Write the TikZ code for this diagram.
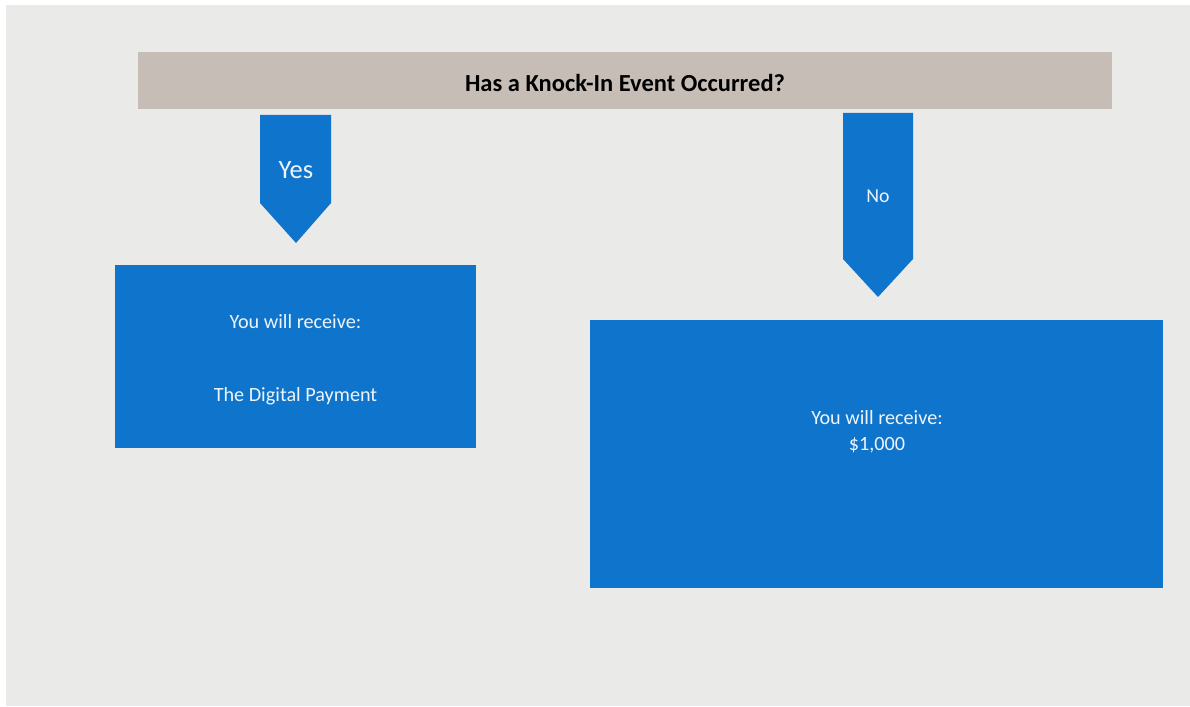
\documentclass[tikz,border=0pt]{standalone}
\usepackage{fontspec}
\setmainfont{Carlito}
\definecolor{bgc}{HTML}{EAEAE9}
\definecolor{barc}{HTML}{C6BEB6}
\definecolor{bluec}{HTML}{0F74CB}
\definecolor{txtc}{HTML}{EEF4FA}
\begin{document}
\begin{tikzpicture}[x=1pt,y=-1pt,
  bar/.style={fill=barc,draw=none},
  bluebox/.style={fill=bluec,draw=none},
  boxtext/.style={text=txtc,font=\fontsize{20.2}{26}\selectfont,align=center,inner sep=0pt},
  arrowtext/.style={text=txtc,inner sep=0pt}]
\useasboundingbox (0,0) rectangle (1190,706);
\fill[white] (0,0) rectangle (1190,706);
\fill[bgc] (6,5) rectangle (1190,706);
% title bar
\fill[bar] (138,52) rectangle (1112,109);
\node[inner sep=0pt,font=\bfseries\fontsize{24.5}{28}\selectfont] (title) at (625,83) {Has a Knock-In Event Occurred?};
% yes arrow
\fill[bluebox] (260,115) -- (331,115) -- (331,203) -- (296,243) -- (260,203) -- cycle;
\node[arrowtext,font=\fontsize{26.5}{30}\selectfont] (yes) at (296,170) {Yes};
% no arrow
\fill[bluebox] (843,113) -- (913,113) -- (913,259) -- (878,297) -- (843,259) -- cycle;
\node[arrowtext,font=\fontsize{19.8}{22}\selectfont] (no) at (878,196) {No};
% left box
\fill[bluebox] (115,265) rectangle (476,448);
\node[boxtext] (l1) at (295.5,322) {You will receive:};
\node[boxtext] (l2) at (295.5,396) {The Digital Payment};
% right box
\fill[bluebox] (590,320) rectangle (1163,588);
\node[boxtext] (r1) at (877,432) {You will receive:\\\$1,000};
\end{tikzpicture}
\end{document}
